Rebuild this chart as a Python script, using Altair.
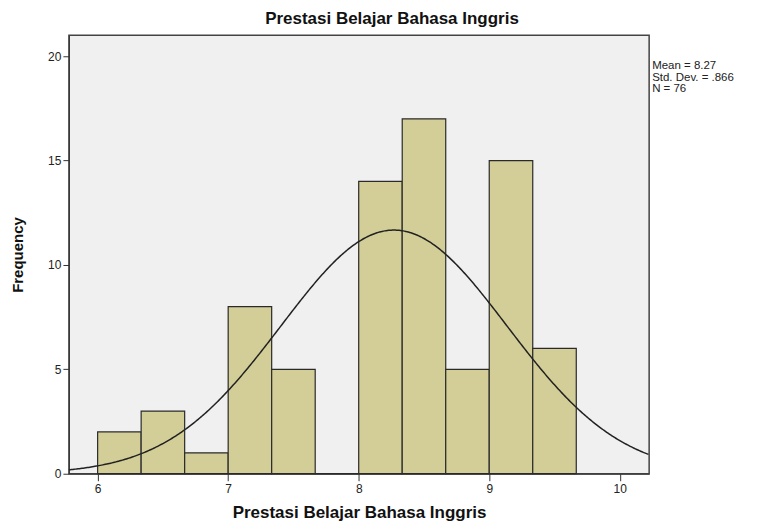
import altair as alt
import pandas as pd

bin_start = [6.0, 6.3333, 6.6667, 7.0, 7.3333, 7.6667, 8.0, 8.3333, 8.6667, 9.0, 9.3333]
bin_end = [6.3333, 6.6667, 7.0, 7.3333, 7.6667, 8.0, 8.3333, 8.6667, 9.0, 9.3333, 9.6667]
counts = [2, 3, 1, 8, 5, 0, 14, 17, 5, 15, 6]
x_ticks = [6, 7, 8, 9, 10]
y_ticks = [0, 5, 10, 15, 20]
mean_val = 8.27
sd_val = 0.866
n_val = 76
bin_w = 1 / 3
x_min, x_max = 5.78, 10.225
y_max = 21.0
stats_text = "Mean = 8.27\nStd. Dev. = .866\nN = 76"

FONT = "Liberation Sans"

bars_df = pd.DataFrame({"x": bin_start, "x2": bin_end, "count": counts})

xscale = alt.Scale(domain=[x_min, x_max], nice=False, zero=False)
yscale = alt.Scale(domain=[0, y_max], nice=False)

bars = alt.Chart(bars_df).mark_rect(
    fill="#D3CE97", stroke="#2a2a2a", strokeWidth=1.2
).encode(
    x=alt.X("x:Q", scale=xscale,
            axis=alt.Axis(values=x_ticks, format="d", title="Prestasi Belajar Bahasa Inggris",
                          grid=False, tickSize=7, tickColor="#333", domainColor="#333",
                          labelFont=FONT, labelFontSize=12, labelColor="#222",
                          titleFont=FONT, titleFontSize=17, titleFontWeight="bold",
                          titleColor="#111", titlePadding=10, labelPadding=3)),
    x2="x2:Q",
    y=alt.Y("count:Q", scale=yscale,
            axis=alt.Axis(values=y_ticks, title="Frequency", grid=False,
                          tickSize=6, tickColor="#333", domainColor="#333",
                          labelFont=FONT, labelFontSize=12, labelColor="#222",
                          titleFont=FONT, titleFontSize=15, titleFontWeight="bold",
                          titleColor="#111", titlePadding=22, labelPadding=2)),
    y2=alt.datum(0),
)

curve = alt.Chart(alt.sequence(x_min, x_max + 0.001, 0.01, as_="x")).transform_calculate(
    y=f"{n_val} * {bin_w} / ({sd_val} * sqrt(2 * PI)) * exp(-0.5 * pow((datum.x - {mean_val}) / {sd_val}, 2))"
).mark_line(color="#222", strokeWidth=1.5).encode(
    x=alt.X("x:Q", scale=xscale),
    y=alt.Y("y:Q", scale=yscale),
)

stats = alt.Chart(pd.DataFrame({"t": [stats_text]})).mark_text(
    align="left", baseline="top", font=FONT, fontSize=11.5, color="#222",
    lineBreak="\n", lineHeight=11.5
).encode(
    x=alt.value(584),
    y=alt.value(25),
    text="t:N",
)

chart = alt.layer(bars, curve, stats).properties(
    width=581, height=439,
    title=alt.TitleParams("Prestasi Belajar Bahasa Inggris", font=FONT, fontSize=17,
                          fontWeight="bold", color="#111", offset=7, anchor="middle", dx=33),
    autosize=alt.AutoSizeParams(type="none"),
    padding={"left": 61, "top": 27, "right": 110, "bottom": 48},
).configure_view(fill="#F0F0F0", stroke="#444", strokeWidth=1.5)

chart.save("out.html", embed_options={"renderer": "svg", "actions": False})
